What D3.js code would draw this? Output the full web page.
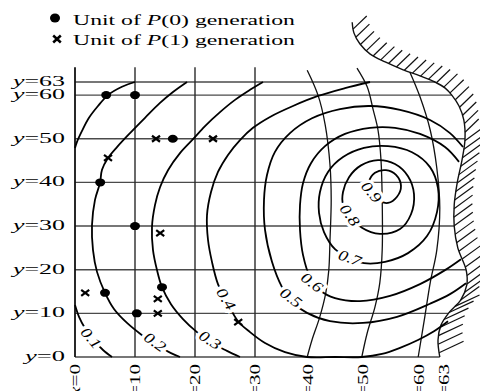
<!DOCTYPE html>
<html><head><meta charset="utf-8">
<script src="https://cdn.jsdelivr.net/npm/d3@7"></script>
<style>html,body{margin:0;padding:0;background:#fff;} svg{display:block;}</style>
</head><body>
<svg id="chart" width="480" height="391"></svg>
<script>
// ---------- data (grid units) ----------
const yGridValues = [0, 10, 20, 30, 40, 50, 60, 63];
const xGridStraight = [0, 10, 20, 30];
const xLabelValues = [0, 10, 20, 30, 40, 50, 60, 63];
const legendLabels = ["(0) generation", "(1) generation"];

// curvilinear x-lines (x = 40, 50, 60), bottom first
const xLine40 = [[38.7,0],[39.5,3.9],[40.8,9.2],[41.8,14.7],[42.3,19.9],[42.5,26.8],[42.7,36],[42.5,44],[41.7,53.2],[40.5,60],[38.7,65.7]];
const xLine50 = [[47.8,0],[48.7,5.5],[50,11.5],[50.8,17],[51.2,24.5],[51.2,36],[51,45.1],[50.5,52],[49.7,56.6],[48.7,61.9],[47,66.2]];
const xLine60 = [[57.2,0],[58.3,9.2],[59.2,17],[60.3,24.5],[60.8,34.1],[60.3,43.3],[59.2,52],[57.5,59.6],[55.8,65.3]];

// hatched boundary (also the x = 63 line), top first
const boundary = [[46.2,76.7],[46.5,74.2],[47.5,71.7],[49.2,69.4],[51.7,67.6],[54.7,65.8],[57.5,64.4],[60,63],[61.7,61.6],[62.8,60],[64,57.5],[64.8,54.3],[65,49.9],[64.5,45.1],[63.7,39.9],[63.2,34.8],[63.2,30],[63.8,25],[65.2,19.9],[65.3,16.5],[64.3,13.1],[62.3,10.1],[61,7.3],[60.5,3.9],[60.8,0]];

// contour lines
const contour01Upper = [[10,63],[7.83,61.9],[5.5,60],[3.83,57.5],[2.33,54.8],[1.17,51.8],[0.33,49.3],[0,47.9]];
const contour01Lower = [[0,11.9],[0.67,9.2],[1.67,6.6],[3,4.1],[4.67,1.6],[6.17,0]];
const contour02 = [[18.67,63],[16.33,60.7],[14.17,58.2],[11.67,54.8],[9.17,51.3],[7,48.1],[5.5,45.6],[4.5,42.9],[4.17,39.9],[3.33,36],[2.83,30.2],[3,24.5],[3.67,19.5],[5,14.7],[6.5,11],[8.67,7.8],[11.17,5],[13.83,2.5],[16,0.9],[17.5,0]];
const contour03 = [[31.33,63],[29.17,61.2],[26.67,58.9],[24.17,56.1],[21.67,52.9],[19.67,49.9],[17.5,46.7],[15.5,42.8],[14.17,38.9],[13.33,34.8],[12.83,29.8],[13,24.5],[13.67,19.9],[14.5,16],[16,12.1],[18,8.7],[20.33,5.7],[22.83,3.2],[25.33,1.4],[27.5,0]];
const contour04 = [[49.17,63],[45,61.6],[40.5,59.8],[36.33,57.5],[32.5,55],[29.67,52.5],[27.5,49.7],[25.5,46.3],[23.83,42.4],[22.67,37.8],[22,32.5],[22.17,26.8],[22.83,21.8],[23.83,16.7],[25.33,12.6],[27.17,8.2],[29.17,5.7],[31.67,3.2],[35,1.1],[38.67,0],[43.33,0],[47.83,0],[51.17,0.7],[54.17,2.1],[57.17,3.9],[59.83,5.9],[62.17,8.2]];
const contour05 = [[64.67,48.1],[62.5,51.3],[59.17,54.3],[54.17,56.6],[49.17,57.5],[44.17,56.8],[39.5,54.7],[35.83,51.3],[33.33,47],[32,41.7],[31.5,36],[31.67,29.1],[32.83,21.8],[34.5,16],[36.33,12.4],[38.67,10.1],[42.5,8.2],[48,7.8],[53.67,9.2],[59.17,12.2],[62.5,14.4],[65.17,16.9]];
const contour06 = [[64,44.7],[61.67,48.1],[57.5,51.1],[53.33,52.5],[49.17,52.5],[45,51.1],[41.67,48.3],[39.33,44.4],[38,39.8],[37.5,34.8],[37.5,29.1],[38,23.4],[39.17,18.3],[40.83,15.3],[43.33,13.5],[47.5,12.8],[52.5,14],[57.5,16.7],[61.67,19.9],[64.33,22.4]];
const contour07 = [[45.83,22.7],[48.17,21.5],[51.67,21.8],[55.5,23.8],[58.67,27.7],[60.33,33.2],[60.5,38.7],[59.17,43.5],[56.17,46.9],[52.17,48.3],[48.17,47.9],[44.67,45.8],[42.17,42.4],[40.83,37.8],[40.67,33],[41.5,28.6],[43.33,24.7]];
const contour08 = [[45.83,32.5],[47.83,29.6],[50.83,28.2],[54.17,29.3],[56,32.7],[56.5,37.3],[55.5,41.4],[53.33,44.2],[50.5,45.1],[47.67,43.9],[45.67,41.2],[44.67,37.8],[44.67,35]];
const contour09 = [[49.33,37.6],[50.33,36],[52.17,35.3],[53.67,36.7],[54.33,39.2],[53.5,41.7],[51.83,42.8],[50,42.2],[49,40.1]];

const contourLabels = ["0.1","0.2","0.3","0.4","0.5","0.6","0.7","0.8","0.9"];
const contourLabelAt = [[2.67,4.35],[13.33,3.44],[22.5,3.9],[25.17,13.3],[36,13.6],[39.5,17.1],[45.8,22.7],[45.8,32.5],[49.4,37.8]];
const contourLabelAngle = [50, 35, 33, 58, 38, 38, 20, 55, 50];

// units of the two generations
const gen0 = [[5.2,60],[10,60],[16.3,50],[4.2,40],[10,30],[5,14.7],[14.5,16],[10.3,10]];
const gen1 = [[5.5,45.6],[13.5,50],[23,50],[14.2,28.4],[1.7,14.7],[13.8,13.3],[13.8,10],[27.2,8]];

// ---------- drawing ----------
const svg = d3.select("#chart");
svg.append("rect").attr("width",480).attr("height",391).attr("fill","#fff");
const x = d3.scaleLinear().domain([0,67.5]).range([75,480]);
const y = d3.scaleLinear().domain([0,63]).range([357,82]);
const FONT = "'Liberation Serif','Times New Roman',serif";

const line = d3.line().x(d=>x(d[0])).y(d=>y(d[1])).curve(d3.curveCatmullRom.alpha(0.5));
const closedLine = d3.line().x(d=>x(d[0])).y(d=>y(d[1])).curve(d3.curveCatmullRomClosed.alpha(0.5));

// boundary x at a given y (linear interpolation along boundary polyline)
function boundaryXAt(v){
  for(let i=0;i<boundary.length-1;i++){
    const a=boundary[i], b=boundary[i+1];
    if((a[1]-v)*(b[1]-v)<=0 && a[1]!==b[1]){
      const t=(v-a[1])/(b[1]-a[1]);
      return a[0]+t*(b[0]-a[0]);
    }
  }
  return boundary[boundary.length-1][0];
}

const grid = svg.append("g");
// horizontal lines
yGridValues.forEach(v=>{
  grid.append("line").attr("x1",x(0)).attr("x2",x(boundaryXAt(v)))
    .attr("y1",y(v)).attr("y2",y(v))
    .attr("stroke","#4a4a4a").attr("stroke-width",1.4);
});
// straight vertical lines
xGridStraight.forEach(v=>{
  grid.append("line").attr("x1",x(v)).attr("x2",x(v))
    .attr("y1",y(0)).attr("y2",y(66.4))
    .attr("stroke", v===0 ? "#111" : "#2a2a2a").attr("stroke-width", v===0 ? 1.8 : 1.4);
});
// curvilinear x lines
[xLine40,xLine50,xLine60].forEach(arr=>{
  grid.append("path").attr("d",line(arr)).attr("fill","none")
    .attr("stroke","#111").attr("stroke-width",1.3);
});

// boundary + hatching
const bnd = svg.append("path").attr("d", d3.line().x(d=>x(d[0])).y(d=>y(d[1])).curve(d3.curveCatmullRom.alpha(0.5))(boundary))
  .attr("fill","none").attr("stroke","#111").attr("stroke-width",1.4);
const bn = bnd.node(), BL = bn.getTotalLength();
const hatch = svg.append("g").attr("stroke","#111").attr("stroke-width",1.2);
for(let s=7; s<BL-3; s+=8.6){
  const p = bn.getPointAtLength(s);
  let ang, len;
  if(p.y<135){ang=44; len=19;} else if(p.y<300){ang=36; len=23;} else {ang=25; len=27;}
  const r = ang*Math.PI/180;
  hatch.append("line").attr("x1",p.x).attr("y1",p.y)
    .attr("x2",p.x+len*Math.cos(r)).attr("y2",p.y-len*Math.sin(r));
}

// contours
const cg = svg.append("g").attr("fill","none").attr("stroke","#000").attr("stroke-width",1.8);
[contour01Upper,contour01Lower,contour02,contour03,contour04,contour05,contour06].forEach(arr=>{
  cg.append("path").attr("d",line(arr));
});
[contour07,contour08,contour09].forEach(arr=>{
  cg.append("path").attr("d",closedLine(arr));
});

// contour labels
contourLabels.forEach((t,i)=>{
  const p = contourLabelAt[i];
  svg.append("text").text(t)
    .attr("transform",`translate(${x(p[0])},${y(p[1])}) rotate(${contourLabelAngle[i]})`)
    .attr("text-anchor","middle").attr("dominant-baseline","central")
    .attr("font-family",FONT).attr("font-style","italic").attr("font-size",15)
    .attr("textLength",23).attr("lengthAdjust","spacingAndGlyphs")
    .attr("fill","#000").attr("stroke","#fff").attr("stroke-width",6)
    .attr("paint-order","stroke");
});

// marks
function drawDot(g,cx,cy,rx,ry){ g.append("ellipse").attr("cx",cx).attr("cy",cy).attr("rx",rx).attr("ry",ry).attr("fill","#000"); }
function drawCross(g,cx,cy,hw,hh,sw){
  g.append("path").attr("d",`M${cx-hw},${cy-hh}L${cx+hw},${cy+hh}M${cx-hw},${cy+hh}L${cx+hw},${cy-hh}`)
    .attr("stroke","#000").attr("stroke-width",sw).attr("fill","none");
}
const mg = svg.append("g");
gen0.forEach(d=>drawDot(mg,x(d[0]),y(d[1]),5,4));
gen1.forEach(d=>drawCross(mg,x(d[0]),y(d[1]),4,3,2.2));

// y labels
yGridValues.forEach(v=>{
  const t = svg.append("text").attr("x",65).attr("y",y(v)+4)
    .attr("text-anchor","end").attr("font-family",FONT).attr("font-size",15)
    .attr("textLength", v<10 ? 40 : 52).attr("lengthAdjust","spacingAndGlyphs").attr("fill","#000");
  t.append("tspan").attr("font-style","italic").text("y");
  t.append("tspan").text("=" + v);
});

// x labels (rotated, at the foot of each x line)
const xBottoms = {40:xLine40[0][0], 50:xLine50[0][0], 60:xLine60[0][0], 63:boundary[boundary.length-1][0]};
xLabelValues.forEach(v=>{
  const bx = (v in xBottoms) ? x(xBottoms[v]) + (v===63?4:1) : x(v);
  const t = svg.append("text")
    .attr("transform",`translate(${bx+5},364) rotate(-90)`)
    .attr("text-anchor","end").attr("font-family",FONT).attr("font-size",15)
    .attr("textLength", v<10 ? 32 : 42).attr("lengthAdjust","spacingAndGlyphs").attr("fill","#000");
  t.append("tspan").attr("font-style","italic").text("x");
  t.append("tspan").text("=" + v);
});

// legend
const lg = svg.append("g");
drawDot(lg,55,18,5,4.5);
drawCross(lg,57,39,3.8,3.5,2.5);
legendLabels.forEach((s,i)=>{
  const t = lg.append("text").attr("x",73).attr("y",25 + i*20)
    .attr("font-family",FONT).attr("font-size",15)
    .attr("textLength",222).attr("lengthAdjust","spacingAndGlyphs").attr("fill","#000");
  t.append("tspan").text("Unit of ");
  t.append("tspan").attr("font-style","italic").text("P");
  t.append("tspan").text(s);
});
</script>
</body></html>
